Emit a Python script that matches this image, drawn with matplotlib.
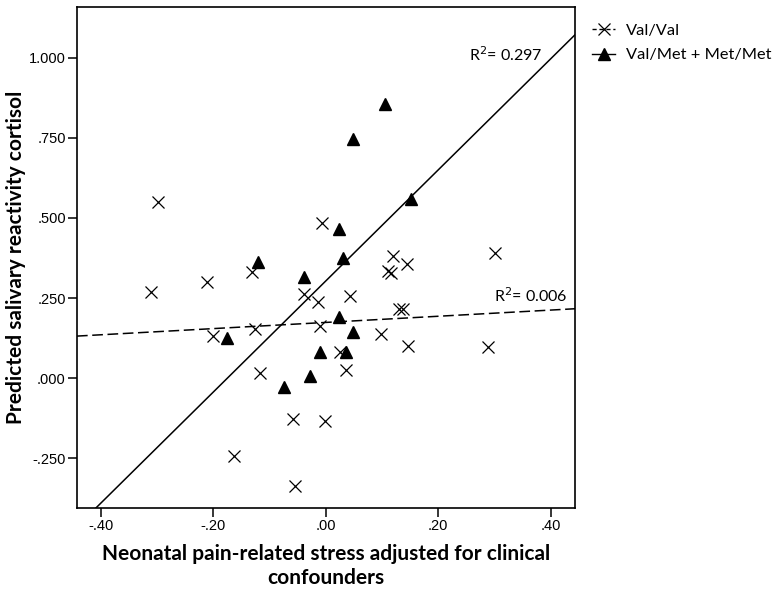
import matplotlib.pyplot as plt
import numpy as np

# Val/Val group (crosses)
valval_x = [-0.298, -0.006, -0.131, -0.211, -0.311, -0.039, -0.014, -0.010, -0.125, -0.200,
            0.120, 0.145, 0.110, 0.117, 0.302, 0.043, 0.130, 0.137, 0.098, 0.147, 0.289,
            0.025, -0.117, 0.036, -0.058, -0.001, -0.163, -0.055]
valval_y = [0.549, 0.485, 0.332, 0.301, 0.270, 0.262, 0.236, 0.162, 0.153, 0.131,
            0.381, 0.356, 0.335, 0.327, 0.390, 0.257, 0.217, 0.215, 0.137, 0.100, 0.098,
            0.082, 0.017, 0.025, -0.129, -0.134, -0.242, -0.338]

# Val/Met + Met/Met group (triangles)
met_x = [-0.176, -0.120, -0.039, -0.075, -0.028, -0.011, 0.023, 0.031, 0.024, 0.036,
         0.049, 0.049, 0.105, 0.152]
met_y = [0.126, 0.362, 0.315, -0.028, 0.007, 0.082, 0.465, 0.376, 0.190, 0.082,
         0.145, 0.746, 0.856, 0.558]

# fit lines (slope, intercept)
fit_met = (1.734, 0.303)
fit_val = (0.0964, 0.1737)

xlim = (-0.4425, 0.4436)
ylim = (-0.406, 1.159)

fig = plt.figure(figsize=(7.76, 5.93), dpi=100)
ax = fig.add_axes([0.0992, 0.1433, 0.6418, 0.8449])

xs = np.array(xlim)
ax.plot(xs, fit_met[0] * xs + fit_met[1], color='black', lw=1.1)
ax.plot(xs, fit_val[0] * xs + fit_val[1], color='black', lw=1.1, dashes=(7, 3))

ax.plot(valval_x, valval_y, 'x', color='black', markersize=8, mew=0.9, label='Val/Val')
ax.plot(met_x, met_y, '^', color='black', markersize=9, label='Val/Met + Met/Met')

ax.text(0.255, 0.99, 'R$^2$= 0.297', fontsize=11.5, family='Lato')
ax.text(0.300, 0.238, 'R$^2$= 0.006', fontsize=11.5, family='Lato')

ax.set_xlim(xlim)
ax.set_ylim(ylim)
ax.set_xticks([-0.4, -0.2, 0.0, 0.2, 0.4])
ax.set_xticklabels(['-.40', '-.20', '.00', '.20', '.40'])
ax.set_yticks([-0.25, 0.0, 0.25, 0.5, 0.75, 1.0])
ax.set_yticklabels(['-.250', '.000', '.250', '.500', '.750', '1.000'])
ax.tick_params(direction='out', length=6.5, width=1.1, labelsize=10.5, pad=1.5)
for lab in ax.get_xticklabels() + ax.get_yticklabels():
    lab.set_family('Liberation Sans')
for s in ax.spines.values():
    s.set_linewidth(1.2)

ax.set_xlabel('Neonatal pain-related stress adjusted for clinical\nconfounders',
              fontsize=15, fontweight='bold', family='Lato', labelpad=8, linespacing=1.25)
ax.set_ylabel('Predicted salivary reactivity cortisol',
              fontsize=15, fontweight='bold', family='Lato', labelpad=2)

h1 = plt.Line2D([], [], color='black', lw=1, dashes=(3, 2), marker='x', markersize=8, mew=0.9)
h2 = plt.Line2D([], [], color='black', lw=1, marker='^', markersize=9)
fig.legend([h1, h2], ['Val/Val', 'Val/Met + Met/Met'], loc='upper left',
           bbox_to_anchor=(0.744, 0.985), frameon=False, handlelength=1.4,
           handletextpad=0.67, labelspacing=0.6, prop={'family': 'Lato', 'size': 11.8})

fig.savefig('out.png', dpi=100)
